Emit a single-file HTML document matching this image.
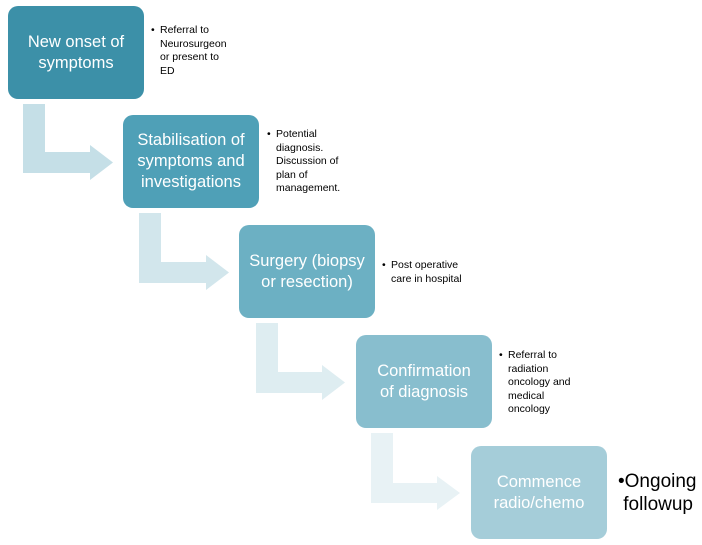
<!DOCTYPE html>
<html><head><meta charset="utf-8"><style>
body{margin:0;width:702px;height:545px;background:#fff;position:relative;overflow:hidden;font-family:"Liberation Sans",sans-serif}
.b{position:absolute;width:136px;height:93px;border-radius:10px;color:#fff;display:flex;align-items:center;justify-content:center;text-align:center;font-size:16.5px;line-height:21px}
.t{position:absolute;font-size:10.5px;line-height:13.5px;color:#000}
.t span{position:absolute;left:-9px}
svg{position:absolute;left:0;top:0}
</style></head><body>
<svg width="702" height="545">
<path d="M23,104 H45 V152 H90 V145 L113,162.5 L90,180 V173 H23 Z" fill="#c5dfe7"/>
<path d="M139,213 H161 V262 H206 V255 L229,272.5 L206,290 V283 H139 Z" fill="#d2e6ec"/>
<path d="M256,323 H278 V372 H322 V365 L345,382.5 L322,400 V393 H256 Z" fill="#deedf1"/>
<path d="M371,433 H393 V483 H437 V476 L460,493 L437,510 V503 H371 Z" fill="#e8f2f5"/>
</svg>
<div class="b" style="left:8px;top:6px;background:#3c90a8">New onset of<br>symptoms</div>
<div class="b" style="left:123px;top:115px;background:#4fa0b7">Stabilisation of<br>symptoms and<br>investigations</div>
<div class="b" style="left:239px;top:225px;background:#6cb0c3">Surgery (biopsy<br>or resection)</div>
<div class="b" style="left:356px;top:335px;background:#88bece">Confirmation<br>of diagnosis</div>
<div class="b" style="left:471px;top:446px;background:#a5cdd9">Commence<br>radio/chemo</div>
<div class="t" style="left:160px;top:24px"><span>•</span>Referral to<br>Neurosurgeon<br>or present to<br>ED</div>
<div class="t" style="left:276px;top:128px"><span>•</span>Potential<br>diagnosis.<br>Discussion of<br>plan of<br>management.</div>
<div class="t" style="left:391px;top:259px"><span>•</span>Post operative<br>care in hospital</div>
<div class="t" style="left:508px;top:349px"><span>•</span>Referral to<br>radiation<br>oncology and<br>medical<br>oncology</div>
<div style="position:absolute;left:618px;top:470px;font-size:19px;line-height:23px">•Ongoing<br>&nbsp;followup</div>
</body></html>
